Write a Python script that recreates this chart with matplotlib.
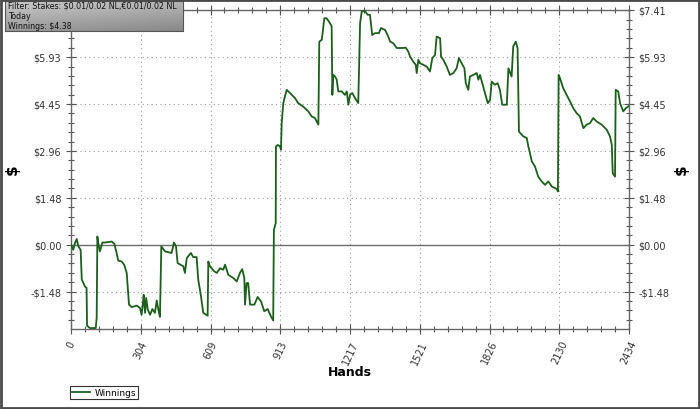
import numpy as np
import matplotlib.pyplot as plt
from matplotlib.ticker import FixedLocator
from matplotlib.colors import LinearSegmentedColormap

plt.rcParams['text.parse_math'] = False
plt.rcParams['font.family'] = ['DejaVu Sans']

# cumulative winnings (hands, dollars)
hands = [0, 10, 17, 25, 32, 42, 47, 61, 68, 70, 83, 108, 112, 115, 119, 126, 137, 148,
         178, 189, 199, 206, 221, 232, 243, 253, 265, 287, 301, 308, 313, 317, 323, 328,
         335, 345, 355, 366, 374, 381, 388, 394, 410, 439, 449, 458, 465, 490, 497, 505,
         523, 533, 548, 555, 567, 577, 596, 599, 606, 625, 636, 650, 664, 672, 686, 708,
         723, 737, 747, 756, 759, 766, 773, 781, 800, 814, 829, 843, 858, 872, 882, 885,
         893, 894, 902, 912, 916, 919, 926, 933, 941, 955, 977, 991, 1013, 1035, 1050,
         1064, 1079, 1083, 1094, 1105, 1115, 1130, 1137, 1140, 1144, 1152, 1159, 1166,
         1181, 1195, 1203, 1210, 1217, 1227, 1239, 1253, 1261, 1268, 1282, 1294, 1304,
         1314, 1326, 1343, 1352, 1370, 1384, 1392, 1406, 1421, 1443, 1460, 1471, 1479,
         1493, 1504, 1508, 1515, 1522, 1537, 1552, 1566, 1576, 1588, 1595, 1610, 1614,
         1624, 1639, 1653, 1668, 1682, 1692, 1704, 1716, 1722, 1733, 1740, 1755, 1770,
         1777, 1784, 1794, 1806, 1818, 1828, 1835, 1849, 1861, 1871, 1881, 1901, 1908,
         1922, 1929, 1940, 1948, 1954, 1973, 1988, 1995, 2002, 2010, 2024, 2038, 2053,
         2068, 2082, 2097, 2119, 2124, 2127, 2133, 2147, 2162, 2177, 2191, 2206, 2220,
         2235, 2249, 2264, 2278, 2293, 2315, 2337, 2351, 2359, 2363, 2373, 2376, 2387,
         2395, 2409, 2420, 2434]
winnings = [0.00, -0.16, 0.05, 0.18, -0.05, -0.16, -1.10, -1.32, -1.36, -2.56, -2.63,
            -2.63, -2.30, 0.26, 0.05, -0.21, 0.07, 0.07, 0.10, 0.03, -0.26, -0.50, -0.53,
            -0.63, -0.89, -1.89, -1.97, -1.92, -2.00, -2.21, -1.89, -1.58, -2.15, -1.68,
            -2.05, -2.21, -2.03, -2.15, -1.76, -2.05, -2.28, -0.05, -0.21, -0.26, 0.07,
            -0.05, -0.58, -0.68, -0.89, -0.42, -0.26, -0.39, -0.39, -1.10, -1.63, -2.15,
            -2.24, -0.53, -0.68, -0.84, -0.89, -0.74, -0.79, -0.63, -0.95, -1.05, -1.16,
            -0.89, -0.77, -1.05, -1.89, -1.21, -1.21, -1.89, -1.89, -1.65, -1.79, -2.10,
            -2.03, -2.26, -2.39, 0.47, 0.68, 3.10, 3.15, 3.10, 3.00, 3.84, 4.47, 4.68,
            4.89, 4.79, 4.63, 4.47, 4.36, 4.21, 4.05, 4.00, 3.79, 6.41, 6.47, 7.15, 7.15,
            6.99, 6.89, 4.73, 5.36, 5.31, 5.21, 4.84, 4.84, 4.73, 4.84, 4.42, 4.73, 4.79,
            4.63, 4.47, 6.99, 7.36, 7.38, 7.26, 7.26, 6.62, 6.68, 6.68, 6.84, 6.78, 6.57,
            6.41, 6.36, 6.21, 6.21, 6.22, 6.10, 5.94, 5.78, 5.68, 5.42, 5.84, 5.73, 5.68,
            5.62, 5.47, 5.89, 5.99, 6.57, 6.52, 5.94, 5.84, 5.62, 5.36, 5.42, 5.57, 5.89,
            5.73, 5.57, 5.10, 4.89, 5.31, 5.36, 5.42, 5.21, 5.36, 5.10, 4.79, 4.47, 4.57,
            5.15, 5.05, 5.10, 4.89, 4.42, 4.42, 5.57, 5.31, 6.26, 6.41, 6.21, 3.57, 3.42,
            3.37, 3.10, 2.89, 2.63, 2.47, 2.15, 2.00, 1.89, 2.00, 1.84, 1.76, 1.68, 5.36,
            5.26, 4.94, 4.73, 4.52, 4.31, 4.15, 4.05, 3.68, 3.79, 3.84, 4.00, 3.89, 3.79,
            3.63, 3.42, 3.15, 2.26, 2.15, 4.89, 4.84, 4.47, 4.21, 4.31, 4.38]

x_ticks = [0, 304, 609, 913, 1217, 1521, 1826, 2130, 2434]
y_ticks = [-1.48, 0.00, 1.48, 2.96, 4.45, 5.93, 7.41]
y_labels = ['-$1.48', '$0.00', '$1.48', '$2.96', '$4.45', '$5.93', '$7.41']
info_lines = ['Filter: Stakes: $0.01/0.02 NL,\u20ac0.01/0.02 NL', 'Today', 'Winnings: $4.38']

W, H = 700, 410
fig = plt.figure(figsize=(7, 4.1), dpi=100)
fig.patch.set_facecolor('white')

ax = fig.add_axes([71 / W, 1 - 330 / H, 558 / W, 319 / H])
ax.plot(hands, winnings, color='#1b5f1b', lw=1.3, zorder=3, label='Winnings')
ax.axhline(0, color='#6e6e6e', lw=1.0, zorder=2)
ax.set_xlim(0, 2434)
ax.set_ylim(-2.66, 7.41)

ax.set_xticks(x_ticks)
ax.set_xticklabels([str(t) for t in x_ticks], rotation=65, ha='center', va='top',
                   fontsize=7, color='#333333')
ax.xaxis.set_minor_locator(FixedLocator(np.linspace(0, 2434, 41)))
ax.set_yticks(y_ticks)
ax.set_yticklabels(y_labels, fontsize=7, color='#333333')
ax.yaxis.set_minor_locator(FixedLocator(np.arange(-9, 26) * 0.296))

ax.grid(True, which='major', linestyle=(0, (1, 3)), color='#9a9a9a', lw=0.8)
ax.tick_params(which='both', direction='inout', top=True, right=True,
               labelright=True, color='#555555')
ax.tick_params(which='major', length=7, width=0.8)
ax.tick_params(which='minor', length=5, width=0.8)
for s in ax.spines.values():
    s.set_color('#666666')
    s.set_linewidth(1.0)
# the left top label sits under the info box in the reference
ax.yaxis.get_major_ticks()[-1].label1.set_visible(False)

ax.set_xlabel('Hands', fontsize=9, fontweight='bold', labelpad=0)
fig.text(12 / W, 1 - 170 / H, '$', rotation=90, fontsize=11, fontweight='bold',
         ha='center', va='center')
fig.text(681 / W, 1 - 170 / H, '$', rotation=90, fontsize=11, fontweight='bold',
         ha='center', va='center')

leg = ax.legend(loc='lower left', bbox_to_anchor=(70 / W, 1 - 400 / H),
                bbox_transform=fig.transFigure, fontsize=6.5, fancybox=False,
                framealpha=1, edgecolor='#333333', borderpad=0.2,
                handlelength=2.0, handletextpad=0.5, borderaxespad=0)
leg.get_frame().set_linewidth(0.8)

# info box with grey gradient in the top-left corner
bx = fig.add_axes([5 / W, 1 - 32 / H, 178 / W, 30 / H])
gy = np.linspace(0, 1, 64)
gx = np.linspace(0, 1, 256)
grad = np.add.outer(gy * 0.7, gx * 0.3)
greys = LinearSegmentedColormap.from_list('box', ['#cacaca', '#888888'])
bx.imshow(grad, cmap=greys, vmin=0, vmax=1, aspect='auto',
          extent=[0, 1, 0, 1], origin='upper')
bx.set_xlim(0, 1)
bx.set_ylim(0, 1)
bx.set_xticks([])
bx.set_yticks([])
for s in bx.spines.values():
    s.set_color('#555555')
for i, line in enumerate(info_lines):
    bx.text(0.015, 0.85 - i * 0.34, line, fontsize=5.7, family='DejaVu Sans',
            va='center', ha='left', color='#111111')

# outer border
fig.add_artist(plt.Rectangle((0.0015, 0.0025), 0.997, 0.995, fill=False,
                             edgecolor='#4a4a4a', lw=2, transform=fig.transFigure))

fig.savefig('out.png', dpi=100)
